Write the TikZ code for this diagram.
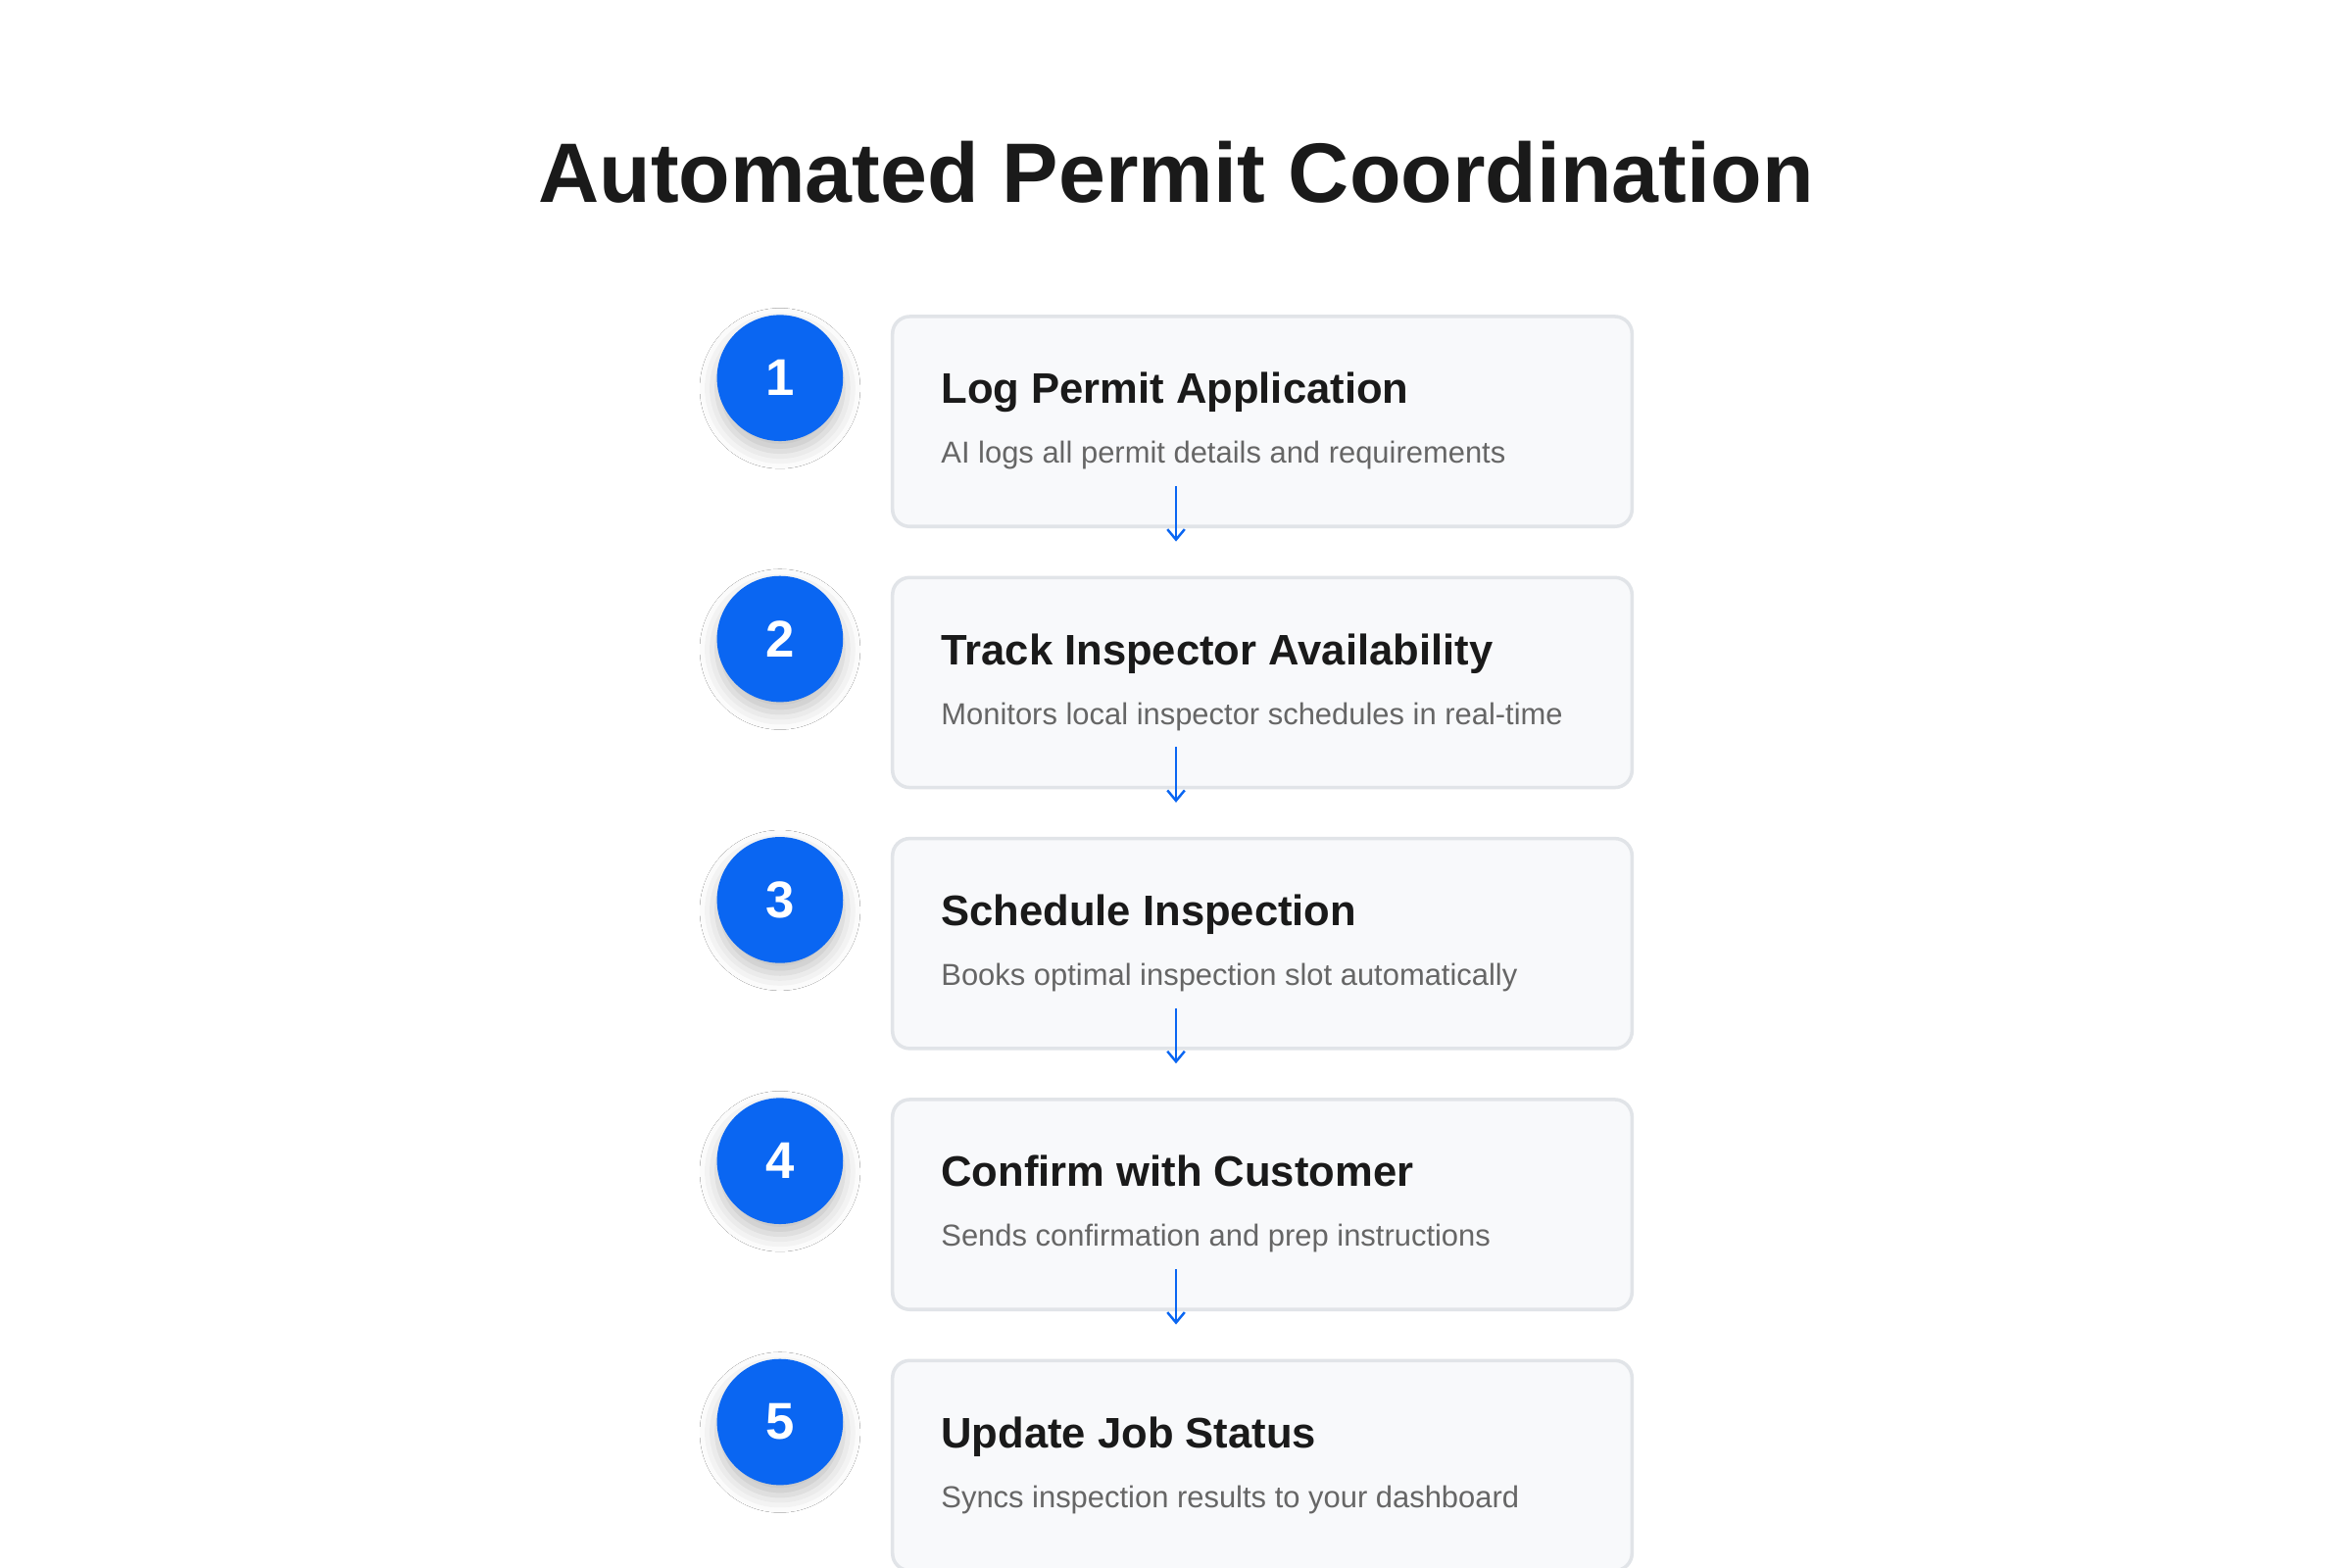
\documentclass[tikz,border=0pt]{standalone}
\usepackage{fontspec}
\setmainfont{Liberation Sans}
\usetikzlibrary{shadows.blur,arrows.meta}
\definecolor{blu}{HTML}{0A66F2}
\definecolor{boxfill}{HTML}{F8F9FB}
\definecolor{boxline}{HTML}{E1E4E8}
\definecolor{txt}{HTML}{1A1A1A}
\definecolor{sub}{HTML}{666666}
\tikzset{
 numc/.style={circle,fill=blu,minimum size=84*0.4357pt,inner sep=0,text=white,font=\fontsize{15}{15}\selectfont\bfseries,blur shadow={shadow xshift=0pt,shadow yshift=-3pt,shadow blur radius=5pt,shadow opacity=25}},
 stepbox/.style={draw=boxline,line width=1pt,fill=boxfill,rounded corners=5pt},
 ttl/.style={anchor=base west,text=txt,font=\fontsize{12.4}{14}\selectfont\bfseries,inner sep=0},
 sbt/.style={anchor=base west,text=sub,font=\fontsize{8.8}{10}\selectfont,inner sep=0},
 arr/.style={draw=blu,line width=0.7pt,-{Straight Barb[length=3pt,width=5pt]}}
}
\begin{document}
\begin{tikzpicture}[x=0.01531cm,y=-0.01531cm]
\useasboundingbox[fill=white] (0,0) rectangle (1568,1045);
\node[text=txt,font=\fontsize{24.5}{28}\selectfont\bfseries] (title) at (784,115) {Automated Permit Coordination};
\foreach \i/\y/\t/\s in {1/211/Log Permit Application/AI logs all permit details and requirements,
 2/385/Track Inspector Availability/Monitors local inspector schedules in real-time,
 3/559/Schedule Inspection/Books optimal inspection slot automatically,
 4/733/Confirm with Customer/Sends confirmation and prep instructions,
 5/907/Update Job Status/Syncs inspection results to your dashboard}{
 \draw[stepbox] (595,\y) rectangle (1088,\y+140);
 \coordinate (b\i) at (784,\y+140);
 \coordinate (t\i) at (784,\y);
 \node[numc] (c\i) at (520,\y+41) {\i};
 \node[ttl] (h\i) at (627,\y+58) {\t};
 \node[sbt] (s\i) at (627,\y+98) {\s};
}
\foreach \i/\y in {1/211,2/385,3/559,4/733}{
 \coordinate (a\i) at (784,\y+113);
 \coordinate (e\i) at (784,\y+150);
 \draw[arr] (a\i) -- (e\i);
}
\end{tikzpicture}
\end{document}
